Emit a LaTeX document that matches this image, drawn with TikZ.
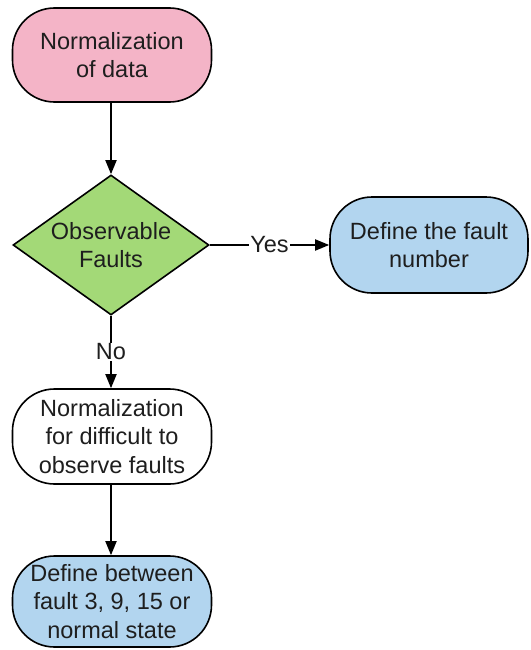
\documentclass[tikz,border=0pt]{standalone}
\usepackage{fontspec}
\setmainfont{Liberation Sans}
\usetikzlibrary{shapes.geometric,arrows.meta}
\definecolor{pinkfill}{RGB}{244,180,199}
\definecolor{greenfill}{RGB}{163,217,119}
\definecolor{bluefill}{RGB}{178,213,239}
\definecolor{inkcol}{RGB}{30,30,30}
\begin{document}
\begin{tikzpicture}[x=1pt,y=-1pt,
  every node/.style={text=inkcol, font=\fontsize{23.5}{28.5}\selectfont},
  terminal/.style={draw=black, line width=1.6pt, rounded corners=42pt,
    minimum width=199pt, inner sep=0pt, align=center},
  decision/.style={draw=black, line width=1.6pt, diamond, fill=greenfill,
    minimum width=196pt, minimum height=140pt, inner sep=0pt},
  flow/.style={draw=black, line width=1.8pt, -{Triangle[length=14pt,width=11pt]}},
  lbl/.style={fill=white, inner sep=1pt}]
\useasboundingbox (0,0) rectangle (530,650);

\node[terminal, fill=pinkfill, minimum height=94pt] (norm) at (112,55)
  {Normalization\\of data};
\node[decision] (obs) at (111,245) {};
\node[align=center, inner sep=0pt] (obstext) at (obs.center) {Observable\\Faults};
\node[terminal, fill=bluefill, minimum width=198pt, minimum height=96pt] (fnum) at (429,245)
  {Define the fault\\number};
\node[terminal, fill=white, minimum height=95pt] (diff) at (112,436.5)
  {Normalization\\for difficult to\\observe faults};
\node[terminal, fill=bluefill, minimum height=91pt] (between) at (112,601.5)
  {Define between\\fault 3, 9, 15 or\\normal state};

\draw[flow] (norm.south -| obs.north) -- (obs.north);
\draw[flow] (obs.east) -- node[lbl] {Yes} (fnum.west);
\draw[flow] (obs.south) -- node[lbl] {No} (obs.south |- diff.north);
\draw[flow] (obs.south |- diff.south) -- (obs.south |- between.north);
\end{tikzpicture}
\end{document}
